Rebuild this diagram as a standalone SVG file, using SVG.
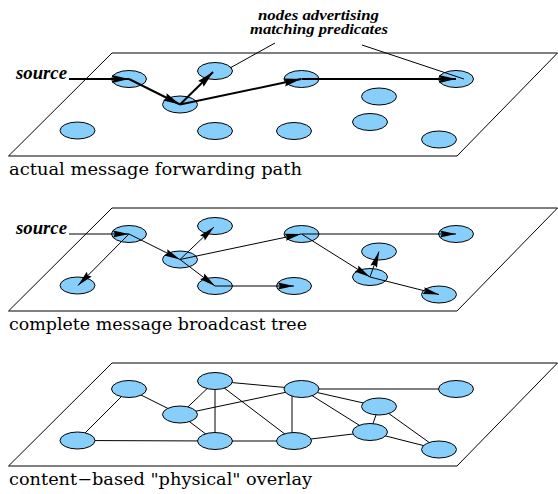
<svg xmlns="http://www.w3.org/2000/svg" width="558" height="494" viewBox="0 0 558 494">
<style>
.plane{fill:#ffffff;stroke:#000;stroke-width:1}
.node{fill:#87CEFA;stroke:#000;stroke-width:1}
.thick{fill:none;stroke:#000;stroke-width:2;marker-end:url(#ahThick)}
.thin{fill:none;stroke:#000;stroke-width:1;marker-end:url(#ahThin)}
.edge{fill:none;stroke:#000;stroke-width:1}
.lead{fill:none;stroke:#000;stroke-width:1}
.cap{font-family:"DejaVu Serif","Liberation Serif",serif;font-size:17px;fill:#000}
.bi{font-family:"Liberation Serif","DejaVu Serif",serif;font-weight:bold;font-style:italic;fill:#000}
</style>
<defs>
<marker id="ahThick" markerUnits="userSpaceOnUse" markerWidth="18" markerHeight="10" refX="17" refY="4" orient="auto" overflow="visible">
<path d="M0,0 L17,4 L0,8 L2,4 z" fill="#000"/>
</marker>
<marker id="ahThin" markerUnits="userSpaceOnUse" markerWidth="17" markerHeight="8" refX="16" refY="3.5" orient="auto" overflow="visible">
<path d="M0,0 L16,3.5 L0,7 L2,3.5 z" fill="#000"/>
</marker>
</defs>
<rect x="0" y="0" width="558" height="494" fill="#ffffff"/>

<!-- Panel 1 -->
<g id="panel1">
<polygon class="plane" points="112,53 557.5,53 457,156 8.5,156"/>
<g id="p1-nodes">
<g id="p1-A"><ellipse class="node" cx="129" cy="79" rx="17.5" ry="8.5"/></g>
<g id="p1-B"><ellipse class="node" cx="215" cy="71" rx="17.5" ry="8.5"/></g>
<g id="p1-C"><ellipse class="node" cx="180" cy="104.5" rx="17.5" ry="8.5"/></g>
<g id="p1-D"><ellipse class="node" cx="77.5" cy="130.5" rx="17.5" ry="8.5"/></g>
<g id="p1-E"><ellipse class="node" cx="215" cy="131" rx="17.5" ry="8.5"/></g>
<g id="p1-F"><ellipse class="node" cx="294" cy="131" rx="17.5" ry="8.5"/></g>
<g id="p1-G"><ellipse class="node" cx="301.5" cy="79" rx="17.5" ry="8.5"/></g>
<g id="p1-H"><ellipse class="node" cx="456" cy="79" rx="17.5" ry="8.5"/></g>
<g id="p1-I"><ellipse class="node" cx="379" cy="96.5" rx="17.5" ry="8.5"/></g>
<g id="p1-J"><ellipse class="node" cx="370" cy="122" rx="17.5" ry="8.5"/></g>
<g id="p1-K"><ellipse class="node" cx="439" cy="139.5" rx="17.5" ry="8.5"/></g>
</g>
<g id="p1-connectors">
<path class="thick" d="M69,79 L129,79"/>
<path class="thick" d="M129,79 L180,104.5"/>
<path class="thick" d="M180,104.5 L213,72"/>
<path class="thick" d="M180,104.5 L301,79"/>
<path class="thick" d="M301.5,79 L456,79"/>
<path class="lead" d="M275,43 L230,68"/>
<path class="lead" d="M362,45 L464,79"/>
</g>
<text class="bi" x="16" y="78.5" font-size="18" textLength="51" lengthAdjust="spacingAndGlyphs">source</text>
<text class="bi" x="258" y="19.5" font-size="15" textLength="121" lengthAdjust="spacingAndGlyphs">nodes advertising</text>
<text class="bi" x="250" y="34" font-size="15" textLength="138" lengthAdjust="spacingAndGlyphs">matching predicates</text>
<text class="cap" x="9" y="174.5" textLength="293" lengthAdjust="spacingAndGlyphs">actual message forwarding path</text>
</g>

<!-- Panel 2 -->
<g id="panel2">
<polygon class="plane" points="112,208 557.5,208 457,311 8.5,311"/>
<g id="p2-nodes">
<g id="p2-A"><ellipse class="node" cx="129" cy="234" rx="17.5" ry="8.5"/></g>
<g id="p2-B"><ellipse class="node" cx="215" cy="226" rx="17.5" ry="8.5"/></g>
<g id="p2-C"><ellipse class="node" cx="180" cy="259.5" rx="17.5" ry="8.5"/></g>
<g id="p2-D"><ellipse class="node" cx="77.5" cy="285.5" rx="17.5" ry="8.5"/></g>
<g id="p2-E"><ellipse class="node" cx="215" cy="286" rx="17.5" ry="8.5"/></g>
<g id="p2-F"><ellipse class="node" cx="294" cy="286" rx="17.5" ry="8.5"/></g>
<g id="p2-G"><ellipse class="node" cx="301.5" cy="234" rx="17.5" ry="8.5"/></g>
<g id="p2-H"><ellipse class="node" cx="456" cy="234" rx="17.5" ry="8.5"/></g>
<g id="p2-I"><ellipse class="node" cx="379" cy="251.5" rx="17.5" ry="8.5"/></g>
<g id="p2-J"><ellipse class="node" cx="370" cy="277" rx="17.5" ry="8.5"/></g>
<g id="p2-K"><ellipse class="node" cx="439" cy="294.5" rx="17.5" ry="8.5"/></g>
</g>
<g id="p2-connectors">
<path class="thin" d="M69,234 L129,234"/>
<path class="thin" d="M129,234 L78,285.5"/>
<path class="thin" d="M129,234 L180,259.5"/>
<path class="thin" d="M180,259.5 L214,227"/>
<path class="thin" d="M180,259.5 L301,234"/>
<path class="thin" d="M180,259.5 L215,286"/>
<path class="thin" d="M215,286 L294,286"/>
<path class="thin" d="M301.5,234 L456,234"/>
<path class="thin" d="M301.5,234 L370,277"/>
<path class="thin" d="M370,277 L379,251.5"/>
<path class="thin" d="M370,277 L439,294.5"/>
</g>
<text class="bi" x="16" y="233.5" font-size="18" textLength="51" lengthAdjust="spacingAndGlyphs">source</text>
<text class="cap" x="9" y="329.5" textLength="298" lengthAdjust="spacingAndGlyphs">complete message broadcast tree</text>
</g>

<!-- Panel 3 -->
<g id="panel3">
<polygon class="plane" points="112,363 557.5,363 457,466 8.5,466"/>
<g id="p3-connectors">
<path class="edge" d="M77.5,440.5 L129,389"/>
<path class="edge" d="M77.5,440.5 L215,441"/>
<path class="edge" d="M129,389 L180,414.5"/>
<path class="edge" d="M180,414.5 L215,381"/>
<path class="edge" d="M180,414.5 L301.5,389"/>
<path class="edge" d="M180,414.5 L215,441"/>
<path class="edge" d="M215,381 L215,441"/>
<path class="edge" d="M215,381 L301.5,389"/>
<path class="edge" d="M215,381 L294,441"/>
<path class="edge" d="M215,441 L294,441"/>
<path class="edge" d="M292,389 L292,441"/>
<path class="edge" d="M301.5,389 L456,389"/>
<path class="edge" d="M301.5,389 L379,406.5"/>
<path class="edge" d="M301.5,389 L370,432"/>
<path class="edge" d="M379,406.5 L370,432"/>
<path class="edge" d="M379,406.5 L439,449.5"/>
<path class="edge" d="M294,441 L370,432"/>
<path class="edge" d="M370,432 L439,449.5"/>
</g>
<g id="p3-nodes">
<g id="p3-A"><ellipse class="node" cx="129" cy="389" rx="17.5" ry="8.5"/></g>
<g id="p3-B"><ellipse class="node" cx="215" cy="381" rx="17.5" ry="8.5"/></g>
<g id="p3-C"><ellipse class="node" cx="180" cy="414.5" rx="17.5" ry="8.5"/></g>
<g id="p3-D"><ellipse class="node" cx="77.5" cy="440.5" rx="17.5" ry="8.5"/></g>
<g id="p3-E"><ellipse class="node" cx="215" cy="441" rx="17.5" ry="8.5"/></g>
<g id="p3-F"><ellipse class="node" cx="294" cy="441" rx="17.5" ry="8.5"/></g>
<g id="p3-G"><ellipse class="node" cx="301.5" cy="389" rx="17.5" ry="8.5"/></g>
<g id="p3-H"><ellipse class="node" cx="456" cy="389" rx="17.5" ry="8.5"/></g>
<g id="p3-I"><ellipse class="node" cx="379" cy="406.5" rx="17.5" ry="8.5"/></g>
<g id="p3-J"><ellipse class="node" cx="370" cy="432" rx="17.5" ry="8.5"/></g>
<g id="p3-K"><ellipse class="node" cx="439" cy="449.5" rx="17.5" ry="8.5"/></g>
</g>
<text class="cap" x="9" y="484.5" textLength="303" lengthAdjust="spacingAndGlyphs">content−based "physical" overlay</text>
</g>
</svg>
